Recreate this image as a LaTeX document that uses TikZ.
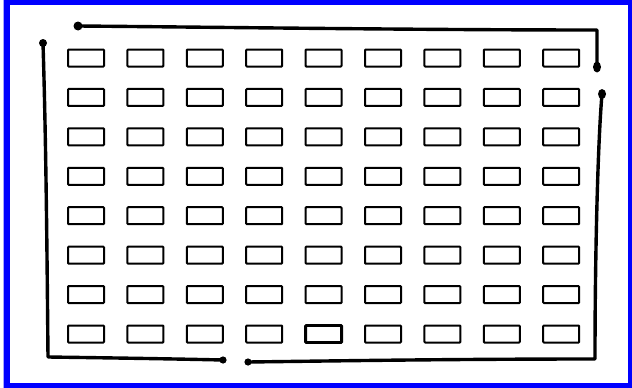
\documentclass[tikz,border=0pt]{standalone}
\begin{document}
\begin{tikzpicture}[x=1pt,y=-1pt,
  sketch/.style={line width=3.4pt,line cap=round,line join=round},
  blob/.style={fill=black},
  cell/.style={draw,line width=2pt,minimum width=36pt,minimum height=17pt,inner sep=0pt,rounded corners=0.8pt},
  boldcell/.style={cell,line width=2.9pt}]
\useasboundingbox (0,0) rectangle (632,388);
\fill[blue!35] (3,0) rectangle (632,388);
\fill[blue] (4,0) rectangle (632,388);
\fill[white] (10,5) rectangle (628,383);
% frame coordinates
\coordinate (tl) at (78,26);
\coordinate (tr) at (597,30);
\coordinate (trend) at (597,67);
\coordinate (rtop) at (602,94);
\coordinate (br) at (595,359);
\coordinate (bgap) at (248,362);
\coordinate (ltop) at (43,43);
\coordinate (bl) at (48,357);
\coordinate (bgapl) at (223,360);
% top and right-upper segment
\draw[sketch] (tl) .. controls (200,27) and (420,30) .. (tr) -- (trend);
% right lower and bottom right segment
\draw[sketch] (rtop) .. controls (598,140) and (595,250) .. (br) .. controls (450,359) and (330,361) .. (bgap);
% left and bottom left segment
\draw[sketch] (ltop) .. controls (46,140) and (47,250) .. (bl) .. controls (120,358) and (180,359) .. (bgapl);
% blobs
\fill[blob] (tl) circle (4.5);
\fill[blob] (trend) ellipse (4 and 5.5);
\fill[blob] (rtop) ellipse (4 and 5);
\fill[blob] (bgap) circle (3.6);
\fill[blob] (ltop) circle (4);
\fill[blob] (bgapl) circle (3.6);
% grid of cells
\foreach \r in {1,...,8}{
  \foreach \c in {1,...,9}{
    \node[cell] (cell-\r-\c) at ({86+(\c-1)*59.4},{58+(\r-1)*39.43}) {};
  }
}
\node[boldcell] (cell-bold) at (cell-8-5) {};
\end{tikzpicture}
\end{document}
